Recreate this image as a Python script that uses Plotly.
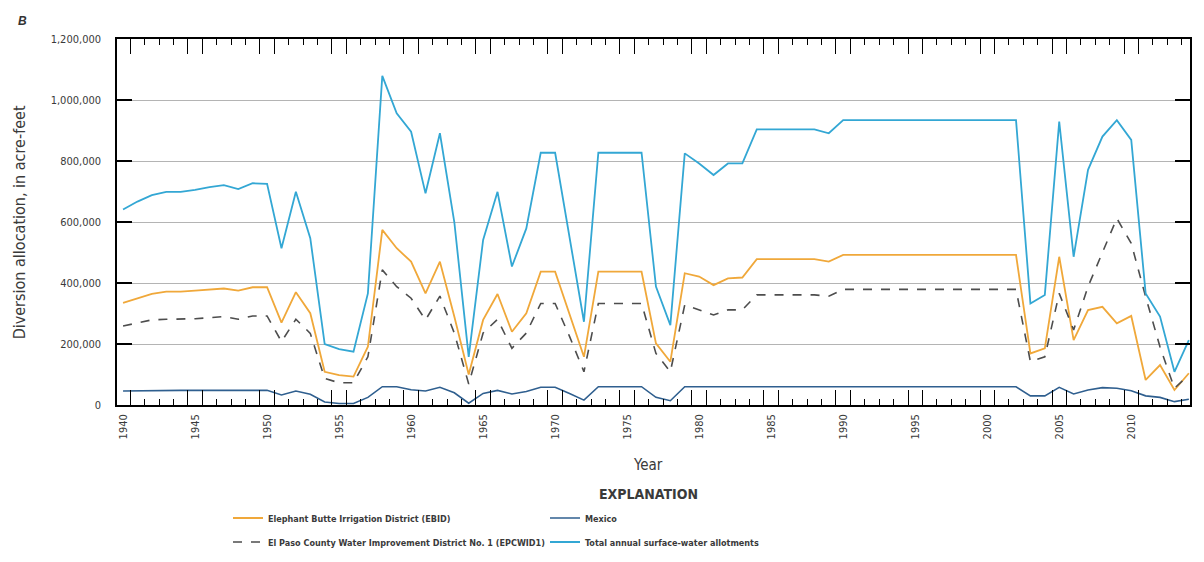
import plotly.graph_objects as go

# Water years, 1940-2014
years = list(range(1940, 2015))

# Total annual surface-water allotments (acre-feet)
total = [
    641000, 667000, 688000, 699000, 699000, 705000, 714000, 721000, 708000, 727000,
    725000, 514000, 699000, 547000, 200000, 183000, 175000, 366000, 1079000, 956000,
    896000, 694000, 891000, 600000, 158000, 541000, 699000, 454000, 579000, 827000,
    827000, 550000, 273000, 827000, 827000, 827000, 827000, 388000, 262000, 825000,
    792000, 754000, 792000, 792000, 904000, 904000, 904000, 904000, 904000, 891000,
    934000, 934000, 934000, 934000, 934000, 934000, 934000, 934000, 934000, 934000,
    934000, 934000, 934000, 333000, 361000, 929000, 486000, 771000, 880000, 934000,
    869000, 366000, 290000, 109000, 213000,
]

# Elephant Butte Irrigation District (EBID)
ebid = [
    335000, 350000, 364000, 372000, 372000, 375000, 379000, 382000, 375000, 386000,
    386000, 270000, 370000, 301000, 109000, 98000, 93000, 191000, 574000, 514000,
    470000, 366000, 470000, 290000, 100000, 279000, 364000, 240000, 301000, 437000,
    437000, 298000, 158000, 437000, 437000, 437000, 437000, 202000, 142000, 432000,
    421000, 393000, 415000, 418000, 478000, 478000, 478000, 478000, 478000, 470000,
    492000, 492000, 492000, 492000, 492000, 492000, 492000, 492000, 492000, 492000,
    492000, 492000, 492000, 169000, 186000, 486000, 213000, 311000, 322000, 268000,
    292000, 82000, 131000, 49000, 104000,
]

# El Paso County Water Improvement District No. 1 (EPCWID1)
epcwid1 = [
    259000, 270000, 279000, 281000, 281000, 283000, 286000, 290000, 281000, 292000,
    292000, 208000, 281000, 235000, 87000, 73000, 73000, 158000, 443000, 388000,
    350000, 279000, 357000, 236000, 69000, 236000, 281000, 186000, 236000, 333000,
    333000, 225000, 109000, 333000, 333000, 333000, 333000, 169000, 109000, 328000,
    311000, 295000, 312000, 312000, 361000, 361000, 361000, 361000, 361000, 357000,
    379000, 379000, 379000, 379000, 379000, 379000, 379000, 379000, 379000, 379000,
    379000, 379000, 379000, 142000, 158000, 366000, 246000, 388000, 497000, 612000,
    530000, 355000, 190000, 55000, 98000,
]

# Mexico
mexico = [
    46000, 47000, 47000, 48000, 48000, 48000, 48000, 48000, 47000, 48000,
    48000, 33000, 46000, 35000, 10000, 5000, 5000, 25000, 60000, 60000,
    50000, 46000, 58000, 40000, 6000, 38000, 48000, 36000, 44000, 58000,
    58000, 38000, 16000, 60000, 60000, 60000, 60000, 25000, 14000, 60000,
    60000, 60000, 60000, 60000, 60000, 60000, 60000, 60000, 60000, 60000,
    60000, 60000, 60000, 60000, 60000, 60000, 60000, 60000, 60000, 60000,
    60000, 60000, 60000, 30000, 30000, 58000, 36000, 49000, 57000, 55000,
    47000, 30000, 25000, 11000, 19000,
]

label_years = list(range(1940, 2011, 5))
y_ticks = [0, 200000, 400000, 600000, 800000, 1000000, 1200000]
y_tick_text = ["0", "200,000", "400,000", "600,000", "800,000", "1,000,000", "1,200,000"]

FONT = "DejaVu Sans Condensed, Liberation Sans Narrow, Roboto, sans-serif"
TXT = "#3a3a3a"

C_EBID = "#f0a83a"
C_EPC = "#4d4d4d"
C_MEX = "#2f5f8f"
C_TOTAL = "#33a7d4"

# Half-year tick marks between years; taller marks bracket each labelled year
minor_ticks = [y + 0.5 for y in range(1940, 2014)]
major_ticks = sorted(
    {v for y in label_years for v in (y - 0.5, y + 0.5) if v > 1940}
)

fig = go.Figure()

fig.add_trace(go.Scatter(
    x=years, y=ebid, mode="lines", name="<b>Elephant Butte Irrigation District (EBID)</b>",
    line=dict(color=C_EBID, width=1.8), legend="legend",
))
fig.add_trace(go.Scatter(
    x=years, y=epcwid1, mode="lines",
    name="<b>El Paso County Water Improvement District No. 1 (EPCWID1)</b>",
    line=dict(color=C_EPC, width=1.6, dash="dash"), legend="legend3",
))
fig.add_trace(go.Scatter(
    x=years, y=mexico, mode="lines", name="<b>Mexico</b>",
    line=dict(color=C_MEX, width=1.6), legend="legend2", xaxis="x2",
))
fig.add_trace(go.Scatter(
    x=years, y=total, mode="lines", name="<b>Total annual surface-water allotments</b>",
    line=dict(color=C_TOTAL, width=1.8), legend="legend4",
))

x_range = [1939.58, 2014.08]


def legend_box(px, py):
    """Legend whose single row is centred vertically on page pixel row py."""
    return dict(
        x=(px - 117) / 1073, y=(405 - py) / 366, xanchor="left", yanchor="middle",
        orientation="v", font=dict(family=FONT, size=9, color=TXT),
        bgcolor="rgba(0,0,0,0)", itemwidth=30,
    )


fig.update_layout(
    width=1204, height=562,
    margin=dict(l=117, r=14, t=39, b=157, autoexpand=False),
    paper_bgcolor="white", plot_bgcolor="white",
    font=dict(family=FONT, color=TXT, size=11),
    xaxis=dict(
        range=x_range, showgrid=False, zeroline=False,
        showline=True, linecolor="black", linewidth=1.5, mirror="ticks",
        tickmode="array", tickvals=major_ticks, showticklabels=False,
        ticks="inside", ticklen=15, tickwidth=1.3, tickcolor="black",
        minor=dict(tickmode="array", tickvals=minor_ticks, ticks="inside",
                   ticklen=6, tickwidth=1.2, tickcolor="black", showgrid=False),
    ),
    xaxis2=dict(
        range=x_range, matches="x", overlaying="x", side="bottom", anchor="y",
        showgrid=False, zeroline=False, showline=False,
        tickmode="array", tickvals=label_years,
        ticktext=[str(v) for v in label_years],
        tickangle=-90, ticks="", ticklabelstandoff=6,
        tickfont=dict(family=FONT, size=11, color=TXT),
    ),
    yaxis=dict(
        range=[0, 1200000], tickmode="array", tickvals=y_ticks, ticktext=y_tick_text,
        showgrid=True, gridcolor="#b4b4b4", gridwidth=1, zeroline=False,
        showline=True, linecolor="black", linewidth=1.5, mirror="ticks",
        ticks="inside", ticklen=15, tickwidth=1.5, tickcolor="black",
        ticklabelstandoff=12, tickfont=dict(family=FONT, size=11, color=TXT),
    ),
    legend=legend_box(228, 518),
    legend2=legend_box(545, 518),
    legend3=legend_box(228, 542),
    legend4=legend_box(545, 542),
    showlegend=True,
)

fig.add_annotation(
    text="<b><i>B</i></b>", xref="paper", yref="paper", x=-0.088, y=1.048,
    xanchor="center", yanchor="middle", showarrow=False,
    font=dict(family="Liberation Sans, Arial, sans-serif", size=12, color="#333"),
)
fig.add_annotation(
    text="Diversion allocation, in acre-feet", xref="paper", yref="paper",
    x=-0.091, y=0.5, textangle=-90, xanchor="center", yanchor="middle",
    showarrow=False, font=dict(family=FONT, size=16, color=TXT),
)
fig.add_annotation(
    text="Year", xref="paper", yref="paper", x=0.495, y=-0.164,
    xanchor="center", yanchor="middle", showarrow=False,
    font=dict(family=FONT, size=15, color=TXT),
)
fig.add_annotation(
    text="<b>EXPLANATION</b>", xref="paper", yref="paper", x=0.495, y=-0.243,
    xanchor="center", yanchor="middle", showarrow=False,
    font=dict(family=FONT, size=14, color=TXT),
)

fig.write_html("out.html")
